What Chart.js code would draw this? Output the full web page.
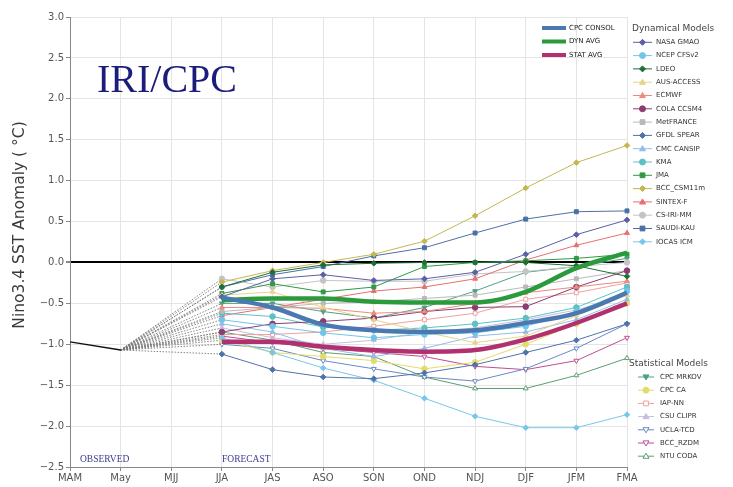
<!DOCTYPE html>
<html>
<head>
<meta charset="utf-8">
<script src="https://cdn.jsdelivr.net/npm/chart.js@4.4.1/dist/chart.umd.min.js"></script>
<style>
  html, body { margin: 0; padding: 0; background: #fff; }
  #wrap { position: relative; width: 733px; height: 487px; }
</style>
</head>
<body>
<div id="wrap"><canvas id="plume" width="733" height="487"></canvas></div>
<script>
// Data
const seasons = ['MAM','May','MJJ','JJA','JAS','ASO','SON','OND','NDJ','DJF','JFM','FMA'];
const observed = [-0.97, -1.07];
const forecastStart = 3; // JJA

const avgNames = ['CPC CONSOL', 'DYN AVG', 'STAT AVG'];
const consolValues = [-0.43, -0.55, -0.76, -0.83, -0.85, -0.83, -0.74, -0.62, -0.37];
const dynAvgValues = [-0.46, -0.44, -0.44, -0.48, -0.49, -0.49, -0.36, -0.07, 0.12];
const statAvgValues = [-0.97, -0.97, -1.03, -1.07, -1.09, -1.07, -0.94, -0.74, -0.50];

const dynNames = ['NASA GMAO','NCEP CFSv2','LDEO','AUS-ACCESS','ECMWF','COLA CCSM4','MetFRANCE','GFDL SPEAR',
  'CMC CANSIP','KMA','JMA','BCC_CSM11m','SINTEX-F','CS-IRI-MM','SAUDI-KAU','IOCAS ICM'];
const dynValues = [
  [-0.42, -0.20, -0.15, -0.22, -0.20, -0.12, 0.10, 0.34, 0.52],
  [-0.70, -0.78, -0.86, -0.92, -0.88, -0.86, -0.78, -0.60, -0.35],
  [-0.30, -0.12, -0.03, -0.01, 0.00, 0.00, 0.00, -0.04, -0.17],
  [-0.40, -0.36, -0.55, -0.70, -0.85, -0.98, -0.90, -0.65, -0.40],
  [-0.55, -0.55, -0.56, -0.62, -0.60, -0.50, -0.37, -0.30, -0.23],
  [-0.85, -0.75, -0.72, -0.68, -0.60, -0.55, -0.54, -0.30, -0.10],
  [-0.60, -0.55, -0.50, -0.48, -0.44, -0.40, -0.30, -0.20, -0.10],
  [-1.12, -1.31, -1.40, -1.42, -1.35, -1.25, -1.10, -0.95, -0.75],
  [-0.75, -0.85, -1.05, -1.15, -1.05, -0.90, -0.85, -0.70, -0.45],
  [-0.62, -0.66, -0.79, -0.83, -0.80, -0.75, -0.68, -0.55, -0.30],
  [-0.38, -0.26, -0.36, -0.30, -0.05, 0.00, 0.02, 0.05, 0.10],
  [-0.24, -0.10, 0.00, 0.10, 0.26, 0.57, 0.91, 1.22, 1.43],
  [-0.65, -0.55, -0.45, -0.35, -0.30, -0.20, 0.03, 0.21, 0.36],
  [-0.20, -0.30, -0.22, -0.23, -0.23, -0.14, -0.11, -0.05, 0.00],
  [-0.30, -0.15, -0.05, 0.08, 0.18, 0.36, 0.53, 0.62, 0.63],
  [-0.92, -1.10, -1.29, -1.44, -1.66, -1.88, -2.02, -2.02, -1.86]
];

const statNames = ['CPC MRKOV','CPC CA','IAP-NN','CSU CLIPR','UCLA-TCD','BCC_RZDM','NTU CODA'];
const statValues = [
  [-0.50, -0.50, -0.60, -0.68, -0.55, -0.35, -0.12, -0.05, 0.05],
  [-0.95, -1.10, -1.15, -1.20, -1.30, -1.22, -1.00, -0.75, -0.50],
  [-0.88, -0.88, -0.85, -0.78, -0.70, -0.62, -0.45, -0.37, -0.25],
  [-0.80, -0.92, -1.00, -0.95, -0.85, -0.80, -0.70, -0.58, -0.40],
  [-1.00, -1.05, -1.20, -1.30, -1.40, -1.45, -1.30, -1.05, -0.75],
  [-0.90, -0.98, -1.05, -1.10, -1.15, -1.27, -1.31, -1.20, -0.92],
  [-0.85, -0.95, -1.10, -1.15, -1.40, -1.54, -1.54, -1.38, -1.17]
];

// Styles
const avgColors = ['#4a78b0', '#2a9a3c', '#b3306f'];
const dynStyle = [
  ['#5b5fa6','rectRot'], ['#72c5e8','circle'], ['#1f6e36','rectRot'], ['#e6d48a','triangle'],
  ['#ec8a7c','triangle'], ['#8a3d6e','circle'], ['#b9b9b9','rect'], ['#4f72a8','rectRot'],
  ['#94bde6','triangle'], ['#5ec0c4','circle'], ['#2f9a45','rect'], ['#c6b650','rectRot'],
  ['#e86f6f','triangle'], ['#c4c4c4','circle'], ['#4b70a6','rect'], ['#78c6ea','rectRot']
];
const statStyle = [
  ['#4fa086','tridown'], ['#e4dc6a','circle'], ['#f2a0a0','rect'], ['#c6bde0','triangle'],
  ['#6a88c4','tridown'], ['#c04c92','tridown'], ['#5c9e70','triangle']
];
const hollowStat = [false, false, true, false, true, true, true];

// Helpers
function padSeries(vals, connect) {
  const d = new Array(seasons.length).fill(null);
  if (connect) d[1] = observed[1];
  vals.forEach((v, i) => { d[forecastStart + i] = v; });
  return d;
}

// the piece May -> JJA is drawn grey and dotted
const isLink = ctx => ctx.p1DataIndex <= forecastStart;

function modelDataset(name, vals, color, marker, hollow) {
  const down = marker === 'tridown';
  return {
    label: name,
    data: padSeries(vals, true),
    borderColor: color,
    backgroundColor: hollow ? '#ffffff' : color,
    pointBorderColor: color,
    borderWidth: 1,
    pointStyle: down ? 'triangle' : marker,
    rotation: down ? 180 : 0,
    pointRadius: ctx => ctx.dataIndex < forecastStart ? 0 : 2.8,
    pointBorderWidth: 1,
    spanGaps: true,
    order: 3,
    segment: {
      borderColor: ctx => isLink(ctx) ? '#777777' : undefined,
      borderDash: ctx => isLink(ctx) ? [1.5, 1.5] : undefined,
      borderWidth: ctx => isLink(ctx) ? 0.9 : undefined
    }
  };
}

const datasets = [];
[consolValues, dynAvgValues, statAvgValues].forEach((vals, i) => {
  datasets.push({
    label: avgNames[i],
    data: padSeries(vals, false),
    borderColor: avgColors[i],
    borderWidth: 4.5,
    pointRadius: 0,
    cubicInterpolationMode: 'monotone',
    order: 1
  });
});
datasets.push({
  label: 'Observed',
  data: seasons.map((s, i) => i < observed.length ? observed[i] : null),
  borderColor: '#111',
  borderWidth: 1.3,
  pointRadius: 0,
  order: 2
});
dynNames.forEach((n, i) => datasets.push(modelDataset(n, dynValues[i], dynStyle[i][0], dynStyle[i][1], false)));
statNames.forEach((n, i) => datasets.push(modelDataset(n, statValues[i], statStyle[i][0], statStyle[i][1], hollowStat[i])));

function marker(ctx, kind, x, y, r, color, hollow) {
  ctx.save();
  ctx.fillStyle = hollow ? '#fff' : color;
  ctx.strokeStyle = color;
  ctx.lineWidth = 1;
  ctx.beginPath();
  if (kind === 'circle') ctx.arc(x, y, r, 0, Math.PI * 2);
  else if (kind === 'rect') ctx.rect(x - r * 0.8, y - r * 0.8, r * 1.6, r * 1.6);
  else if (kind === 'rectRot') { ctx.moveTo(x, y - r); ctx.lineTo(x + r, y); ctx.lineTo(x, y + r); ctx.lineTo(x - r, y); ctx.closePath(); }
  else if (kind === 'triangle') { ctx.moveTo(x, y - r); ctx.lineTo(x + r, y + r * 0.7); ctx.lineTo(x - r, y + r * 0.7); ctx.closePath(); }
  else if (kind === 'tridown') { ctx.moveTo(x, y + r); ctx.lineTo(x + r, y - r * 0.7); ctx.lineTo(x - r, y - r * 0.7); ctx.closePath(); }
  ctx.fill();
  ctx.stroke();
  ctx.restore();
}

const decorations = {
  id: 'decorations',
  afterDraw(chart) {
    const ctx = chart.ctx;
    ctx.save();
    // Big label
    ctx.fillStyle = '#1c1c7c';
    ctx.font = '40px "Liberation Serif", "DejaVu Serif", serif';
    ctx.textBaseline = 'alphabetic';
    ctx.fillText('IRI/CPC', 97, 92);
    ctx.fillStyle = '#3b3b90';
    ctx.font = '9.5px "Liberation Serif", serif';
    ctx.fillText('OBSERVED', 80, 462);
    ctx.fillText('FORECAST', 222, 462);

    // Y axis title
    ctx.save();
    ctx.translate(20, 225);
    ctx.rotate(-Math.PI / 2);
    ctx.textAlign = 'center';
    ctx.textBaseline = 'middle';
    ctx.fillStyle = '#3a3a3a';
    ctx.font = '15.5px "DejaVu Sans", sans-serif';
    ctx.fillText('Nino3.4 SST Anomaly ( \u00B0C)', 0, 0);
    ctx.restore();

    // Averages legend
    ctx.font = '7px "DejaVu Sans", sans-serif';
    ctx.textBaseline = 'middle';
    avgNames.forEach((n, i) => {
      const y = 28 + i * 13.5;
      ctx.strokeStyle = avgColors[i];
      ctx.lineWidth = 4;
      ctx.beginPath(); ctx.moveTo(542, y); ctx.lineTo(566, y); ctx.stroke();
      ctx.fillStyle = '#222';
      ctx.fillText(n, 569, y);
    });

    // Dynamical models legend
    ctx.fillStyle = '#444';
    ctx.font = '9px "DejaVu Sans", sans-serif';
    ctx.fillText('Dynamical Models', 632, 29);
    ctx.font = '7px "DejaVu Sans", sans-serif';
    dynNames.forEach((n, i) => {
      const y = 42.3 + i * 13.3;
      ctx.strokeStyle = dynStyle[i][0];
      ctx.lineWidth = 1;
      ctx.beginPath(); ctx.moveTo(633, y); ctx.lineTo(652, y); ctx.stroke();
      marker(ctx, dynStyle[i][1], 642.5, y, 3, dynStyle[i][0], false);
      ctx.fillStyle = '#333';
      ctx.fillText(n, 656, y);
    });

    // Statistical models legend
    ctx.fillStyle = '#444';
    ctx.font = '9px "DejaVu Sans", sans-serif';
    ctx.fillText('Statistical Models', 629, 364);
    ctx.font = '7px "DejaVu Sans", sans-serif';
    statNames.forEach((n, i) => {
      const y = 377 + i * 13.2;
      ctx.strokeStyle = statStyle[i][0];
      ctx.lineWidth = 1;
      ctx.beginPath(); ctx.moveTo(638, y); ctx.lineTo(654, y); ctx.stroke();
      marker(ctx, statStyle[i][1], 646, y, 3, statStyle[i][0], hollowStat[i]);
      ctx.fillStyle = '#333';
      ctx.fillText(n, 660, y);
    });
    ctx.restore();
  }
};

new Chart(document.getElementById('plume'), {
  type: 'line',
  data: { labels: seasons, datasets },
  options: {
    responsive: false,
    animation: false,
    layout: { padding: { top: 17, right: 106, left: 0, bottom: 0 } },
    plugins: { legend: { display: false }, tooltip: { enabled: false } },
    scales: {
      x: {
        offset: false,
        grid: { color: '#e4e4e4', tickLength: 4, tickColor: '#888', offset: false },
        border: { color: '#888' },
        ticks: { color: '#555', font: { size: 10, family: 'DejaVu Sans' }, padding: 1, maxRotation: 0, autoSkip: false },
        afterFit: s => { s.height = 20; }
      },
      y: {
        min: -2.5, max: 3.0,
        grid: {
          color: c => c.tick && c.tick.value === 0 ? '#000' : '#e4e4e4',
          lineWidth: c => c.tick && c.tick.value === 0 ? 2 : 1,
          tickLength: 4, tickColor: '#888'
        },
        border: { color: '#888' },
        ticks: {
          stepSize: 0.5, color: '#555', padding: 2,
          font: { size: 10, family: 'DejaVu Sans' },
          callback: v => v.toFixed(1).replace('-', '\u2212')
        },
        afterFit: s => { s.width = 70; }
      }
    }
  },
  plugins: [decorations]
});
</script>
</body>
</html>
